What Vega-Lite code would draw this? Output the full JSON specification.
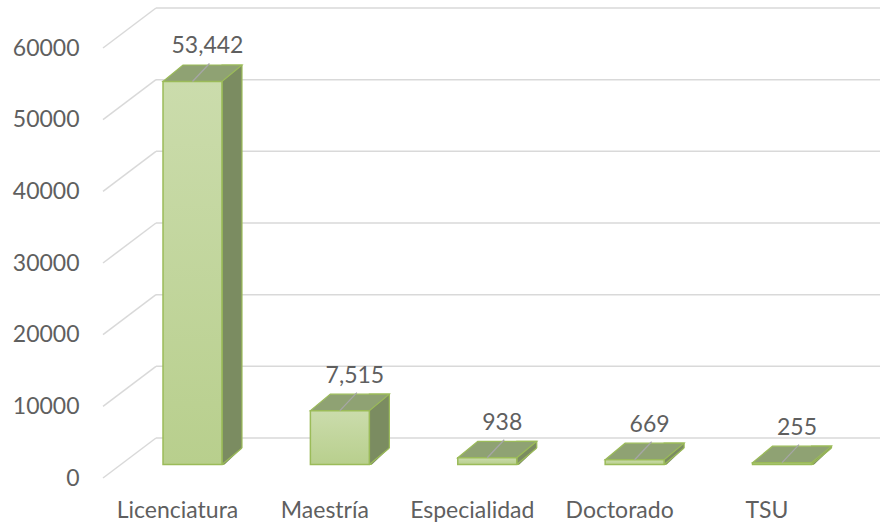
{
  "$schema": "https://vega.github.io/schema/vega-lite/v6.json",
  "width": 777,
  "height": 430,
  "autosize": "none",
  "padding": {"left": 103, "top": 34.5, "right": 0, "bottom": 62.5},
  "background": "white",
  "config": {"view": {"stroke": null}},
  "datasets": {
    "levels": [
      {"nivel": "Licenciatura", "total": 53442},
      {"nivel": "Maestría", "total": 7515},
      {"nivel": "Especialidad", "total": 938},
      {"nivel": "Doctorado", "total": 669},
      {"nivel": "TSU", "total": 255}
    ],
    "grid": [
      {"v": 0}, {"v": 10000}, {"v": 20000}, {"v": 30000}, {"v": 40000}, {"v": 50000}, {"v": 60000}
    ]
  },
  "layer": [
    {
      "data": {"name": "grid"},
      "mark": {"type": "rule", "color": "#D9D9D9", "strokeWidth": 1.5, "yOffset": -26.5},
      "encoding": {
        "x": {"value": 53},
        "x2": {"value": "width"},
        "y": {"field": "v", "type": "quantitative", "scale": {"domain": [0, 60000], "nice": false, "zero": true},
          "axis": {"title": null, "values": [0, 10000, 20000, 30000, 40000, 50000, 60000], "format": "d", "domain": false, "ticks": false, "grid": false,
            "labelPadding": 24, "labelOffset": 13.5, "labelFont": "Lato", "labelFontSize": 23, "labelColor": "#5F5F5F"}}
      }
    },
    {
      "data": {"name": "grid"},
      "mark": {"type": "rule", "color": "#D9D9D9", "strokeWidth": 1.5, "yOffset": 13.5, "y2Offset": -26.5},
      "encoding": {
        "x": {"value": 0},
        "x2": {"value": 53},
        "y": {"field": "v", "type": "quantitative"},
        "y2": {"field": "v"}
      }
    },
    {
      "data": {"name": "levels"},
      "layer": [
        {
          "mark": {"type": "bar", "width": 20, "xOffset": 39.5, "yOffset": -16.5, "fill": "#7B8C61", "stroke": "#9BBB59", "strokeWidth": 1.2},
          "encoding": {
            "y": {"field": "total", "type": "quantitative"},
            "y2": {"datum": 0}
          }
        },
        {
          "mark": {"type": "point", "shape": "M0.7375,0.06L1.2375,-0.4125L1.29,-0.4125L1.29,0.06Z", "size": 6400, "filled": true, "fill": "white", "stroke": null, "opacity": 1},
          "encoding": {
            "y": {"datum": 0}
          }
        },
        {
          "mark": {"type": "point", "shape": "M0.7375,0L1.2375,-0.4125", "size": 6400, "filled": false, "stroke": "#9BBB59", "strokeWidth": 1.2, "opacity": 1},
          "encoding": {
            "y": {"datum": 0}
          }
        },
        {
          "mark": {"type": "point", "shape": "M-0.7375,0L-0.2375,-0.4125L1.2375,-0.4125L0.7375,0Z", "size": 6400, "filled": true, "fill": "#8FA273", "stroke": "#9BBB59", "strokeWidth": 1.2, "opacity": 1},
          "encoding": {
            "y": {"field": "total", "type": "quantitative"}
          }
        },
        {
          "mark": {"type": "bar", "width": {"band": 0.4}, "stroke": "#9BBB59", "strokeWidth": 1.5,
            "color": {"gradient": "linear", "x1": 0, "y1": 0, "x2": 0, "y2": 1, "stops": [{"offset": 0, "color": "#CBDCAC"}, {"offset": 1, "color": "#B8CF8D"}]}},
          "encoding": {
            "y": {"field": "total", "type": "quantitative"},
            "y2": {"datum": 0}
          }
        },
        {
          "mark": {"type": "point", "shape": "M0,0L0.425,-0.45", "size": 6400, "filled": false, "stroke": "#A6A6A6", "strokeWidth": 1.3, "opacity": 1},
          "encoding": {
            "y": {"field": "total", "type": "quantitative"}
          }
        },
        {
          "mark": {"type": "text", "dx": 15, "dy": -35, "baseline": "middle", "align": "center", "font": "Lato", "fontSize": 23, "color": "#5F5F5F"},
          "encoding": {
            "y": {"field": "total", "type": "quantitative"},
            "text": {"field": "total", "type": "quantitative", "format": ","}
          }
        }
      ],
      "encoding": {
        "x": {"field": "nivel", "type": "nominal", "sort": null,
          "scale": {"paddingInner": 0, "paddingOuter": 0.136, "align": 0.394},
          "axis": {"title": null, "domain": false, "ticks": false, "grid": false, "labelAngle": 0, "labelPadding": 35, "labelOffset": -15,
            "labelFont": "Lato", "labelFontSize": 23, "labelColor": "#5F5F5F"}}
      }
    }
  ]
}
